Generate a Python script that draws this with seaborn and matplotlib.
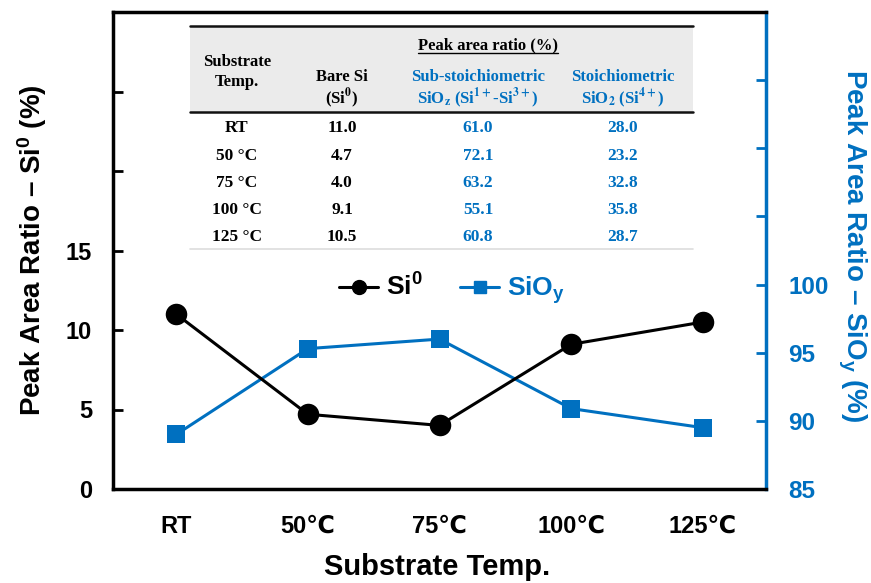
import numpy as np
import pandas as pd
import matplotlib
matplotlib.use("Agg")
import matplotlib.pyplot as plt
import seaborn as sns
from matplotlib.lines import Line2D

# ---- data ----
temps = ["RT", "50℃", "75℃", "100℃", "125℃"]
table_temps = ["RT", "50 °C", "75 °C", "100 °C", "125 °C"]
si0 = [11.0, 4.7, 4.0, 9.1, 10.5]
sub_stoich = [61.0, 72.1, 63.2, 55.1, 60.8]
stoich = [28.0, 23.2, 32.8, 35.8, 28.7]
sioy = [round(a + b, 1) for a, b in zip(sub_stoich, stoich)]
left_ticks = [0, 5, 10, 15, 20, 25, 30]
left_labels = ["0", "5", "10", "15", "", "", ""]
right_ticks = [85, 90, 95, 100, 105, 110, 115, 120]
right_labels = ["85", "90", "95", "100", "", "", "", ""]

BLUE = "#0070C0"

sns.set_theme(style="white")
plt.rcParams["font.family"] = ["Liberation Sans", "DejaVu Sans"]
plt.rcParams["font.weight"] = "bold"
for k in ["text.color", "axes.labelcolor", "xtick.color", "ytick.color"]:
    plt.rcParams[k] = "black"
plt.rcParams["mathtext.fontset"] = "custom"
plt.rcParams["mathtext.rm"] = "Liberation Sans:bold"
plt.rcParams["mathtext.bf"] = "Liberation Sans:bold"
plt.rcParams["mathtext.it"] = "Liberation Sans:bold"

df = pd.DataFrame({"temp": temps, "si0": si0, "sioy": sioy})

fig = plt.figure(figsize=(8.71, 5.83), dpi=100)
ax = fig.add_axes([113 / 871, 1 - 489 / 583, (766 - 113) / 871, (489 - 12) / 583])
ax2 = ax.twinx()

sns.lineplot(data=df, x="temp", y="sioy", ax=ax2, color=BLUE, marker="s",
             markersize=13, markeredgewidth=0, linewidth=2.2, sort=False)
sns.lineplot(data=df, x="temp", y="si0", ax=ax, color="black", marker="o",
             markersize=15.5, markeredgewidth=0, linewidth=2.2, sort=False)
ax.set_zorder(ax2.get_zorder() + 1)
ax.patch.set_visible(False)

ax.set_xlim(-0.48, 4.48)
ax.set_ylim(0, 30)
ax2.set_ylim(85, 120)

ax.set_yticks(left_ticks)
ax.set_yticklabels(left_labels)
ax2.set_yticks(right_ticks)
ax2.set_yticklabels(right_labels)
ax.set_xticks(range(len(temps)))
ax.set_xticklabels(temps, family=["Liberation Sans", "DejaVu Sans"],
                   fontsize=17, fontweight="bold")

ax.tick_params(axis="y", direction="in", length=7, width=2, labelsize=17, pad=15, colors="black")
ax.tick_params(axis="x", direction="in", length=6, width=2, pad=18.5, colors="black")
ax2.tick_params(axis="y", direction="in", length=7, width=2, labelsize=17.5, pad=16,
                colors=BLUE, labelcolor=BLUE)
for t in ax.get_yticklabels() + ax2.get_yticklabels():
    t.set_fontweight("bold")

for s in ["left", "bottom", "top"]:
    ax.spines[s].set_color("black")
    ax.spines[s].set_linewidth(2.5)
ax.spines["right"].set_visible(False)
for s in ["left", "bottom", "top"]:
    ax2.spines[s].set_visible(False)
ax2.spines["right"].set_color(BLUE)
ax2.spines["right"].set_linewidth(2.5)

ax.set_xlabel("Substrate Temp.", fontsize=21, fontweight="bold", labelpad=12)
ax.xaxis.set_label_coords(0.497, -0.135)
ax.set_ylabel(r"Peak Area Ratio – Si$^\mathbf{0}$ (%)", fontsize=20, fontweight="bold")
ax.yaxis.set_label_coords(-0.098, 0.50)
ax2.set_ylabel(r"Peak Area Ratio – SiO$_\mathbf{y}$ (%)", fontsize=20, fontweight="bold",
               color=BLUE, rotation=-90, va="center")
ax2.yaxis.set_label_coords(1.132, 0.511)

# legend
handles = [Line2D([], [], color="black", marker="o", markersize=10, linewidth=2.2),
           Line2D([], [], color=BLUE, marker="s", markersize=9, linewidth=2.2)]
leg = ax.legend(handles, [r"Si$^\mathbf{0}$", r"SiO$_\mathbf{y}$"], loc="center",
                bbox_to_anchor=((452 - 113) / 653, (489 - 290) / 477), ncol=2, frameon=False,
                fontsize=19, handlelength=1.5, handletextpad=0.3, columnspacing=1.4)
for txt, c in zip(leg.get_texts(), ["black", BLUE]):
    txt.set_color(c)
    txt.set_fontweight("bold")

# ---- table drawn in figure pixel coordinates ----
W, H = 871, 583
def fx(x):
    return x / W
def fy(y):
    return 1 - y / H

serif = ["Liberation Serif", "DejaVu Serif"]
tx0, tx1 = 190, 693
fig.patches.append(plt.Rectangle((fx(tx0), fy(112)), fx(tx1) - fx(tx0), fy(26) - fy(112),
                                 transform=fig.transFigure, facecolor="#ebebeb",
                                 edgecolor="none", zorder=3))
for yy, lw, col in [(26, 1.8, "#111111"), (112, 1.8, "#111111"), (249, 1.2, "#dddddd")]:
    fig.add_artist(Line2D([fx(tx0), fx(tx1)], [fy(yy), fy(yy)], color=col, lw=lw,
                          transform=fig.transFigure, zorder=4))

def ttext(x, y, s, color="black", size=12):
    fig.text(fx(x), fy(y), s, ha="center", va="center", color=color, fontsize=size,
             family=serif, fontweight="bold", math_fontfamily="stix", zorder=5)

cols = [237, 342, 478, 623]
ttext(488, 45, "Peak area ratio (%)", size=12)
fig.add_artist(Line2D([fx(418), fx(558)], [fy(53), fy(53)], color="black", lw=1.0,
                      transform=fig.transFigure, zorder=5))
ttext(cols[0], 62, "Substrate")
ttext(cols[0], 82, "Temp.")
ttext(cols[1], 77, "Bare Si")
ttext(cols[1], 98, r"(Si$^{\mathbf{0}}$)")
ttext(cols[2], 77, "Sub-stoichiometric", color=BLUE)
ttext(cols[2], 98, r"SiO$_{\mathbf{z}}$ (Si$^{\mathbf{1+}}$-Si$^{\mathbf{3+}}$)", color=BLUE)
ttext(cols[3], 77, "Stoichiometric", color=BLUE)
ttext(cols[3], 98, r"SiO$_{\mathbf{2}}$ (Si$^{\mathbf{4+}}$)", color=BLUE)

row_y = [128, 156, 183, 210, 237]
for i, yy in enumerate(row_y):
    ttext(cols[0], yy, table_temps[i], size=12.5)
    ttext(cols[1], yy, f"{si0[i]:.1f}", size=12.5)
    ttext(cols[2], yy, f"{sub_stoich[i]:.1f}", color=BLUE, size=12.5)
    ttext(cols[3], yy, f"{stoich[i]:.1f}", color=BLUE, size=12.5)

fig.savefig("out.png", dpi=100)
